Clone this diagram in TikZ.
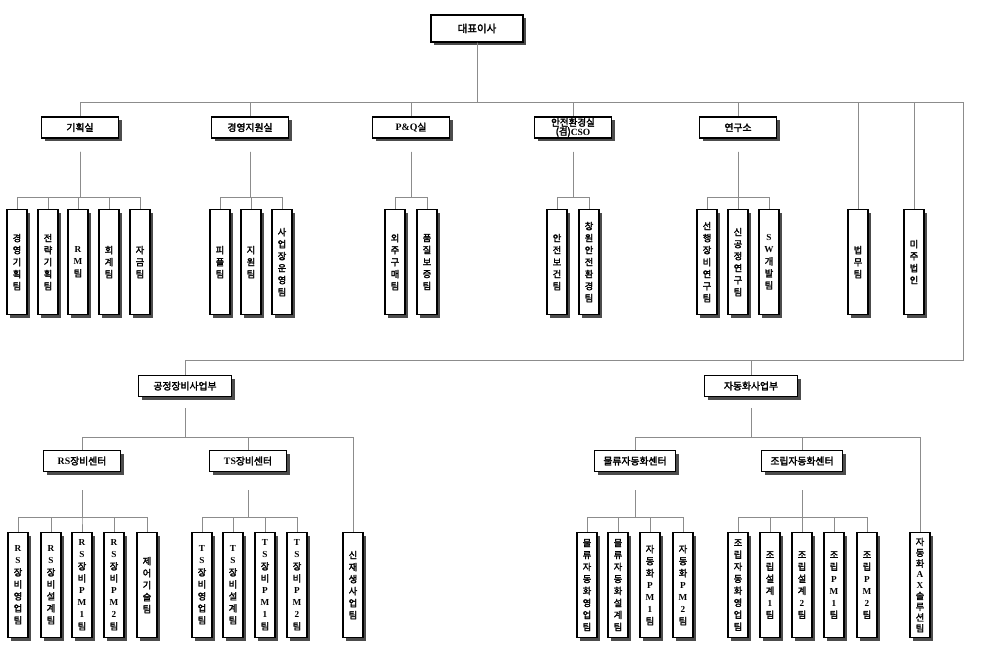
\documentclass[tikz,border=0pt]{standalone}
\usepackage{fontspec}
\setmainfont{Noto Sans CJK KR}[BoldFont={Noto Sans CJK KR}, BoldFeatures={FakeBold=2.4}]
\newfontfamily\lt{Liberation Serif}
\usetikzlibrary{shadows}

\tikzset{
  link/.style={draw=black!45, line width=0.9pt},
  box/.style={draw, line width=1.1pt, fill=white, inner sep=0pt,
    drop shadow={shadow xshift=3pt, shadow yshift=-3pt, fill=black!70, opacity=1}},
  head/.style={box, minimum width=77pt, minimum height=21pt,
    font=\bfseries\fontsize{9.8}{10}\selectfont},
  team/.style={box, anchor=north, minimum width=20pt, minimum height=105pt,
    align=center, font=\bfseries\fontsize{9.2}{12}\selectfont},
}

\begin{document}
\begin{tikzpicture}[x=1pt,y=-1pt]
\useasboundingbox (0,0) rectangle (987,658);

% top level
\node[box, minimum width=92pt, minimum height=27pt, font=\bfseries\fontsize{10.5}{11}\selectfont] (ceo) at (477,28.5) {대표이사};
\node[head] (plan) at (80,127.5) {기획실};
\node[head] (supp) at (250,127.5) {경영지원실};
\node[head] (pq) at (411,127.5) {{\lt P\&Q}실};
\node[head, align=center, font=\bfseries\fontsize{9.5}{9}\selectfont] (safe) at (573,127.5) {안전환경실\\(겸){\lt CSO}};
\node[head] (lab) at (738,127.5) {연구소};
\node[team] (legal) at (858,209) {법\\무\\팀};
\node[team] (usa) at (914,209) {미\\주\\법\\인};

\foreach \n in {plan,supp,pq,safe,lab,legal,usa}
  \draw[link] (ceo.south) -- (ceo.south |- 0,102) -| (\n.north);
\coordinate (turn) at (963,360);

% planning
\foreach \x/\t [count=\i] in {17/{경\\영\\기\\획\\팀}, 48/{전\\략\\기\\획\\팀},
    78/{{\lt R}\\{\lt M}\\팀}, 109/{회\\계\\팀}, 140/{자\\금\\팀}} {
  \node[team] (plan\i) at (\x,209) {\t};
  \draw[link] ([yshift=-13pt]plan.south) -- (plan.south |- 0,197) -| (plan\i.north);
}
% management support
\foreach \x/\t [count=\i] in {220/{피\\플\\팀}, 251/{지\\원\\팀}, 282/{사\\업\\장\\운\\영\\팀}} {
  \node[team] (supp\i) at (\x,209) {\t};
  \draw[link] ([yshift=-13pt]supp.south) -- (supp.south |- 0,197) -| (supp\i.north);
}
% P&Q
\foreach \x/\t [count=\i] in {395/{외\\주\\구\\매\\팀}, 427/{품\\질\\보\\증\\팀}} {
  \node[team] (pq\i) at (\x,209) {\t};
  \draw[link] ([yshift=-13pt]pq.south) -- (pq.south |- 0,197) -| (pq\i.north);
}
% safety
\foreach \x/\t [count=\i] in {557/{안\\전\\보\\건\\팀}, 589/{창\\원\\안\\전\\환\\경\\팀}} {
  \node[team] (safe\i) at (\x,209) {\t};
  \draw[link] ([yshift=-13pt]safe.south) -- (safe.south |- 0,197) -| (safe\i.north);
}
% research
\foreach \x/\t [count=\i] in {707/{선\\행\\장\\비\\연\\구\\팀}, 738/{신\\공\\정\\연\\구\\팀},
    769/{{\lt S}\\{\lt W}\\개\\발\\팀}} {
  \node[team] (lab\i) at (\x,209) {\t};
  \draw[link] ([yshift=-13pt]lab.south) -- (lab.south |- 0,197) -| (lab\i.north);
}

% divisions
\node[head, minimum width=93pt] (proc) at (185,386) {공정장비사업부};
\node[head, minimum width=93pt] (auto) at (751,386) {자동화사업부};
\foreach \n in {proc,auto}
  \draw[link] (ceo.south) -- (ceo.south |- 0,102) -| (turn) -| (\n.north);

\node[head] (rs) at (82,461) {{\lt RS}장비센터};
\node[head] (ts) at (248,461) {{\lt TS}장비센터};
\node[team] (renew) at (353,532) {신\\재\\생\\사\\업\\팀};
\node[head, minimum width=81pt] (logi) at (635,461) {물류자동화센터};
\node[head, minimum width=81pt] (asm) at (802,461) {조립자동화센터};
\node[team, font=\bfseries\fontsize{9.2}{10.8}\selectfont] (ax) at (920,532) {자\\동\\화\\{\lt A}\\{\lt X}\\솔\\루\\션\\팀};

\foreach \n in {rs,ts,renew}
  \draw[link] ([yshift=-11pt]proc.south) -- (proc.south |- 0,437) -| (\n.north);
\foreach \n in {logi,asm,ax}
  \draw[link] ([yshift=-11pt]auto.south) -- (auto.south |- 0,437) -| (\n.north);

% RS center
\foreach \x/\t [count=\i] in {18/{{\lt R}\\{\lt S}\\장\\비\\영\\업\\팀}, 51/{{\lt R}\\{\lt S}\\장\\비\\설\\계\\팀},
    82/{{\lt R}\\{\lt S}\\장\\비\\{\lt P}\\{\lt M}\\{\lt 1}\\팀}, 114/{{\lt R}\\{\lt S}\\장\\비\\{\lt P}\\{\lt M}\\{\lt 2}\\팀},
    147/{제\\어\\기\\술\\팀}} {
  \node[team] (rs\i) at (\x,532) {\t};
  \draw[link] ([yshift=-18pt]rs.south) -- (rs.south |- 0,517) -| (rs\i.north);
}
% TS center
\foreach \x/\t [count=\i] in {202/{{\lt T}\\{\lt S}\\장\\비\\영\\업\\팀}, 233/{{\lt T}\\{\lt S}\\장\\비\\설\\계\\팀},
    265/{{\lt T}\\{\lt S}\\장\\비\\{\lt P}\\{\lt M}\\{\lt 1}\\팀}, 297/{{\lt T}\\{\lt S}\\장\\비\\{\lt P}\\{\lt M}\\{\lt 2}\\팀}} {
  \node[team] (ts\i) at (\x,532) {\t};
  \draw[link] ([yshift=-18pt]ts.south) -- (ts.south |- 0,517) -| (ts\i.north);
}
% logistics automation
\foreach \x/\t [count=\i] in {587/{물\\류\\자\\동\\화\\영\\업\\팀}, 618/{물\\류\\자\\동\\화\\설\\계\\팀},
    650/{자\\동\\화\\{\lt P}\\{\lt M}\\{\lt 1}\\팀}, 683/{자\\동\\화\\{\lt P}\\{\lt M}\\{\lt 2}\\팀}} {
  \node[team] (logi\i) at (\x,532) {\t};
  \draw[link] ([yshift=-18pt]logi.south) -- (logi.south |- 0,517) -| (logi\i.north);
}
% assembly automation
\foreach \x/\t [count=\i] in {738/{조\\립\\자\\동\\화\\영\\업\\팀}, 770/{조\\립\\설\\계\\{\lt 1}\\팀},
    802/{조\\립\\설\\계\\{\lt 2}\\팀}, 834/{조\\립\\{\lt P}\\{\lt M}\\{\lt 1}\\팀}, 867/{조\\립\\{\lt P}\\{\lt M}\\{\lt 2}\\팀}} {
  \node[team] (asm\i) at (\x,532) {\t};
  \draw[link] ([yshift=-18pt]asm.south) -- (asm.south |- 0,517) -| (asm\i.north);
}
\end{tikzpicture}
\end{document}
